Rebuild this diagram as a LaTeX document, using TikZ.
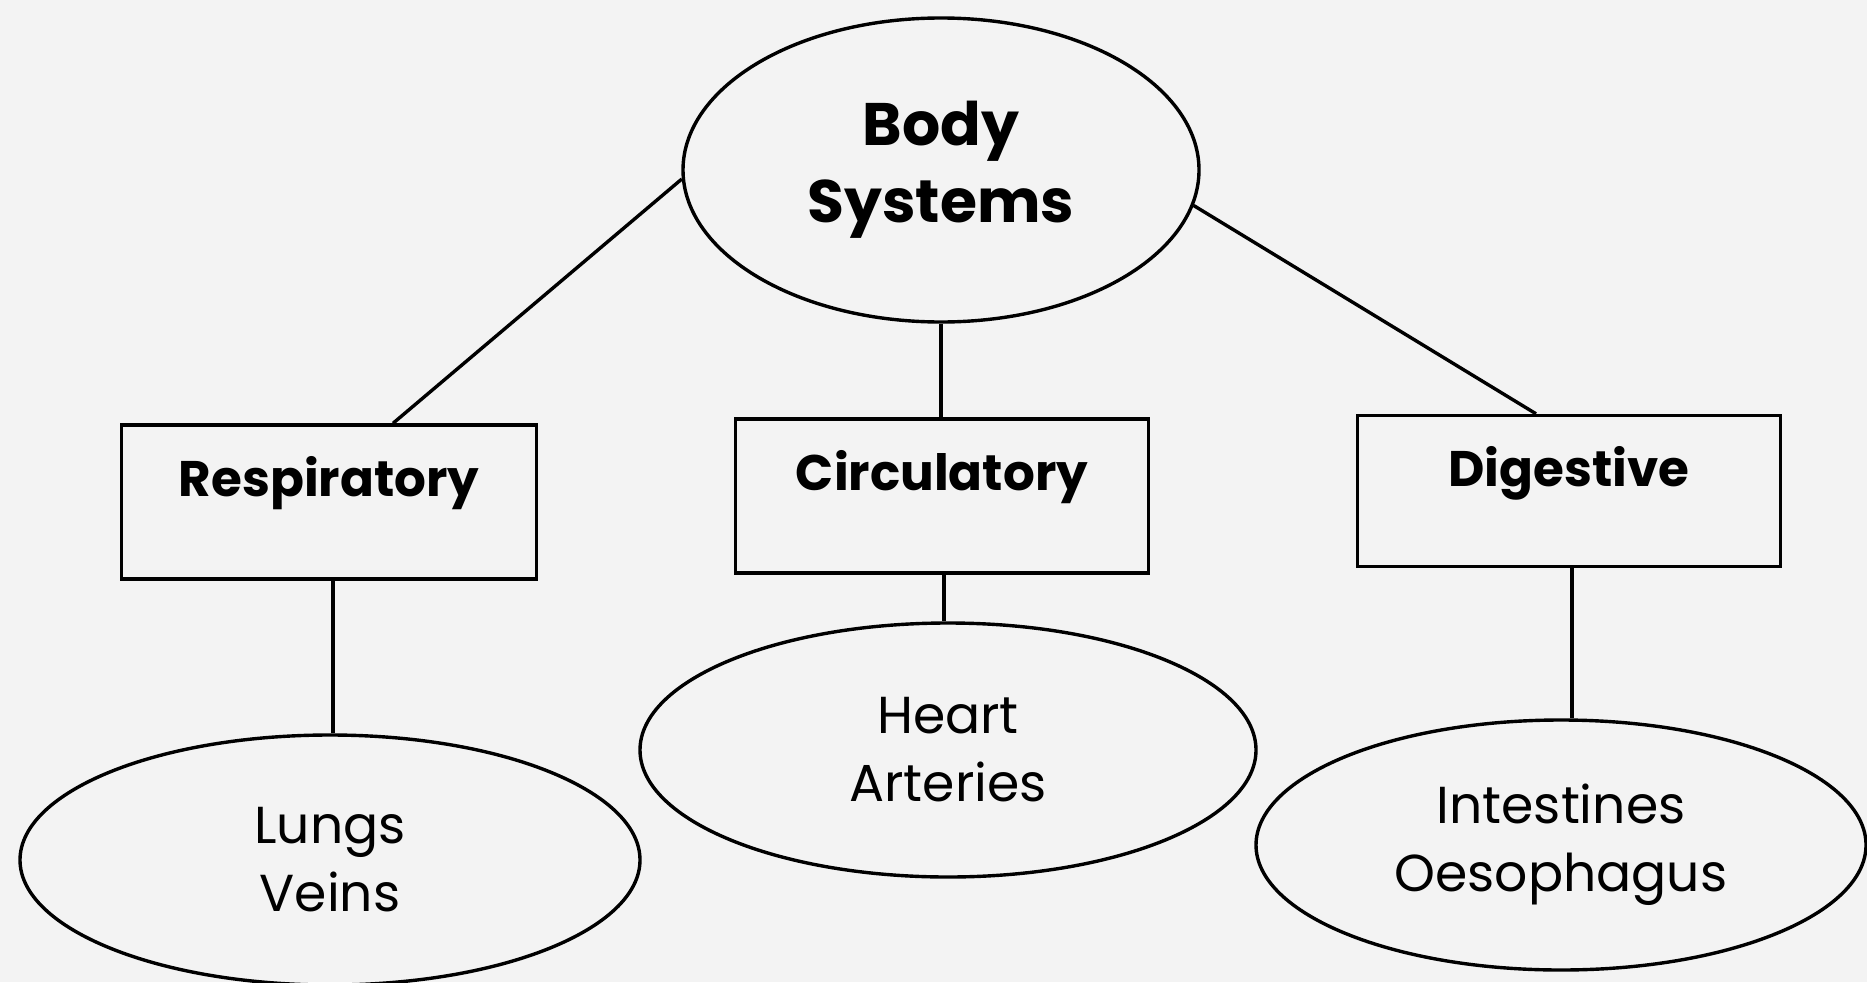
\documentclass[tikz,border=0pt]{standalone}
\usepackage{fontspec}
\setmainfont{Poppins}
\usetikzlibrary{shapes.geometric,calc}
\definecolor{paper}{HTML}{F3F3F3}
\begin{document}
\begin{tikzpicture}[x=1pt,y=-1pt,
  line width=3.4pt,
  oval/.style={draw,ellipse,inner sep=0pt,align=center},
  sysbox/.style={draw,rectangle,inner sep=0pt},
  head/.style={font=\bfseries\fontsize{50}{60}\selectfont},
  leaf/.style={font=\fontsize{52}{68}\selectfont,align=center}]
\fill[paper] (0,0) rectangle (1867,982);
\useasboundingbox (0,0) rectangle (1867,982);
\node[oval,minimum width=516pt,minimum height=304pt,font=\bfseries\fontsize{60}{77}\selectfont] (top) at (941,170) {Body\\Systems};
\node[sysbox,minimum width=415pt,minimum height=154pt] (resp) at (329,502) {};
\node[sysbox,minimum width=413pt,minimum height=154pt] (circ) at (942,496) {};
\node[sysbox,minimum width=423pt,minimum height=151pt] (dig) at (1569,491) {};
\node[head] (respt) at ($(resp.center)+(0,-19)$) {Respiratory};
\node[head] (circt) at ($(circ.center)+(0,-19)$) {Circulatory};
\node[head] (digt) at ($(dig.center)+(0,-18)$) {Digestive};
\node[oval,leaf,minimum width=620pt,minimum height=250pt] (lungs) at (330,860) {Lungs\\Veins};
\node[oval,leaf,minimum width=616pt,minimum height=254pt] (heart) at (948,750) {Heart\\Arteries};
\node[oval,leaf,minimum width=610pt,minimum height=250pt] (intest) at (1561,845) {Intestines\\Oesophagus};
\coordinate (rs) at ($(resp.south)+(4,0)$);
\coordinate (cs) at ($(circ.south)+(2,0)$);
\coordinate (ds) at ($(dig.south)+(3,0)$);
\coordinate (rn) at ($(resp.north)+(64,0)$);
\coordinate (dn) at ($(dig.north)+(-33,0)$);
\draw (top.182) -- (rn);
\draw (top.south) -- (top.south |- circ.north);
\draw (top.-8) -- (dn);
\draw (rs) -- (rs |- lungs.north);
\draw (cs) -- (cs |- heart.north);
\draw (ds) -- (ds |- intest.north);
\end{tikzpicture}
\end{document}
